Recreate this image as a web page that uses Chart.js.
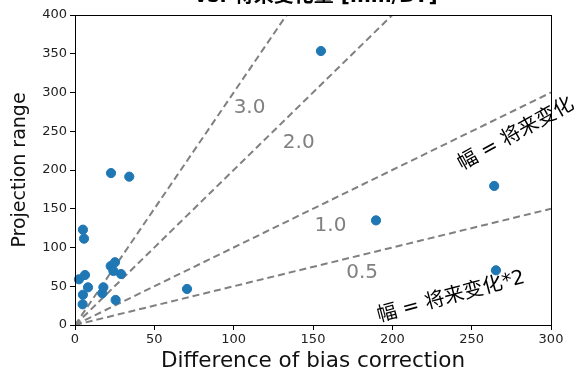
<!DOCTYPE html>
<html><head><meta charset="utf-8">
<script src="https://cdn.jsdelivr.net/npm/chart.js@4/dist/chart.umd.min.js"></script>
<style>html,body{margin:0;padding:0;background:#fff}#wrap{width:580px;height:374px}</style>
</head><body><div id="wrap"><canvas id="c" width="580" height="374"></canvas></div>
<script>
const biasDiff = [155, 22.7, 34.2, 5.0, 5.7, 22.5, 25.2, 24.2, 29, 2.5, 6.3, 8.2, 5.0, 4.8, 17.9, 17.2, 25.6, 70.6, 264.2, 189.7, 265.3];
const projRange = [353.5, 196, 191.4, 123, 111.4, 76, 81, 69.7, 65.8, 59, 64.5, 48.6, 39, 26.7, 48.6, 40.9, 32.3, 46.5, 179.4, 135, 70.6];
const ratios = [3.0, 2.0, 1.0, 0.5];
const ratioLabels = ['3.0', '2.0', '1.0', '0.5'];
const xTicks = [0, 50, 100, 150, 200, 250, 300];
const yTicks = [0, 50, 100, 150, 200, 250, 300, 350, 400];
const xMax = 300, yMax = 400;

const FONT = '"DejaVu Sans", "Noto Sans CJK SC", sans-serif';

const lineSets = ratios.map(k => ({
  type: 'line',
  data: [{x: 0, y: 0}, {x: xMax, y: xMax * k}],
  borderColor: '#808080', borderWidth: 2, borderDash: [7, 4],
  pointRadius: 0, fill: false, clip: 0, order: 2
}));

const points = biasDiff.map((x, i) => ({x, y: projRange[i]}));

const deco = {
  id: 'deco',
  afterDatasetsDraw(chart) {
    const {ctx, chartArea: a, scales: {x, y}} = chart;
    ctx.save();
    ctx.strokeStyle = '#000'; ctx.lineWidth = 1;
    ctx.strokeRect(a.left + 0.5, a.top + 0.5, a.right - a.left, a.bottom - a.top);
    // ratio labels
    ctx.fillStyle = '#808080';
    ctx.font = '20px ' + FONT;
    ctx.textAlign = 'center'; ctx.textBaseline = 'middle';
    const lblPos = [[110, 280], [141, 235], [161, 128], [181, 68]];
    ratioLabels.forEach((t, i) => {
      ctx.fillText(t, x.getPixelForValue(lblPos[i][0]), y.getPixelForValue(lblPos[i][1]));
    });
    // rotated annotations
    ctx.fillStyle = '#000';
    ctx.font = '20px ' + FONT;
    ctx.save();
    ctx.translate(x.getPixelForValue(278), y.getPixelForValue(246));
    ctx.rotate(-29 * Math.PI / 180);
    ctx.fillText('幅 = 将来变化', 0, 0);
    ctx.restore();
    ctx.save();
    ctx.translate(x.getPixelForValue(237), y.getPixelForValue(36));
    ctx.rotate(-15 * Math.PI / 180);
    ctx.fillText('幅 = 将来变化*2', 0, 0);
    ctx.restore();
    // cut-off title
    ctx.font = 'bold 20px ' + FONT;
    ctx.textBaseline = 'alphabetic';
    ctx.fillText('vs. 将来变化量 [mm/DY]', 316, 2);
    ctx.restore();
  }
};

new Chart(document.getElementById('c'), {
  type: 'scatter',
  data: {
    datasets: [
      ...lineSets,
      {type: 'scatter', data: points, backgroundColor: '#1f77b4', borderColor: '#1f77b4',
       pointRadius: 4.6, pointHoverRadius: 4.6, order: 1, clip: false}
    ]
  },
  options: {
    responsive: false, animation: false,
    layout: {padding: {left: 0, right: 29, top: 15, bottom: 0}},
    plugins: {legend: {display: false}, tooltip: {enabled: false}},
    scales: {
      x: {
        type: 'linear', min: 0, max: xMax,
        afterBuildTicks: s => { s.ticks = xTicks.map(v => ({value: v})); },
        afterFit: s => { s.height = 49; },
        grid: {display: true, drawOnChartArea: false, drawTicks: true, tickLength: 5, color: '#000'},
        border: {display: true, color: '#000'},
        ticks: {color: '#222', font: {family: FONT, size: 13}, padding: 2, maxRotation: 0},
        title: {display: true, text: 'Difference of bias correction', color: '#111',
                font: {family: FONT, size: 21.5}, padding: {top: 0, bottom: 0}}
      },
      y: {
        type: 'linear', min: 0, max: yMax,
        afterBuildTicks: s => { s.ticks = yTicks.map(v => ({value: v})); },
        afterFit: s => { s.width = 75; },
        grid: {display: true, drawOnChartArea: false, drawTicks: true, tickLength: 5, color: '#000'},
        border: {display: true, color: '#000'},
        ticks: {color: '#222', font: {family: FONT, size: 13}, padding: 3},
        title: {display: true, text: 'Projection range', color: '#111',
                font: {family: FONT, size: 19}, padding: {top: 9, bottom: 0}}
      }
    }
  },
  plugins: [deco]
});
</script></body></html>
